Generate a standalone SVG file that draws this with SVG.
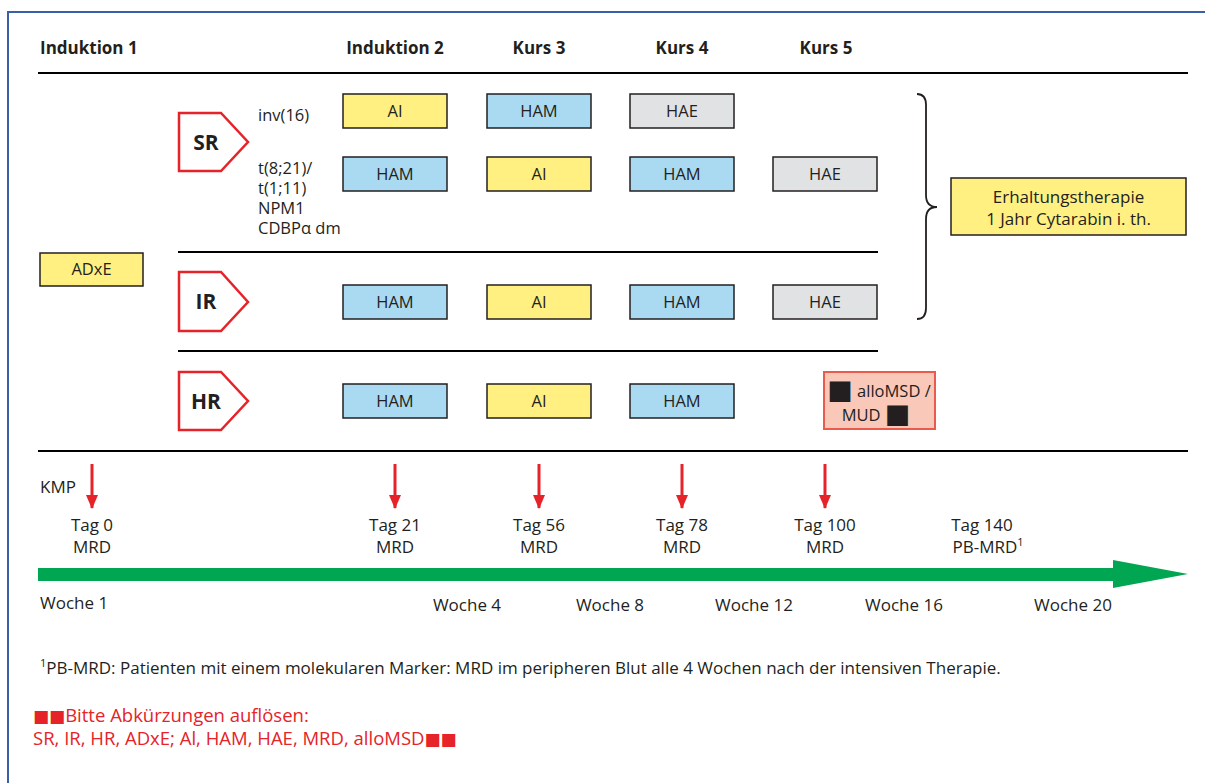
<svg xmlns="http://www.w3.org/2000/svg" width="1205" height="783" viewBox="0 0 1205 783">
<defs>
<style>
text{font-family:"Open Sans","Noto Sans","Liberation Sans",sans-serif;fill:#231f20;font-size:17px}
.h{font-weight:bold;font-size:17px}
.c{text-anchor:middle}
.lbl{font-size:16.5px;text-anchor:middle}
.big{font-weight:bold;font-size:21px;text-anchor:middle}
.red{fill:#e52329;font-size:18.5px}
.sq{font-size:17px;font-family:"DejaVu Sans",sans-serif}
.bsq{font-size:27px;font-family:"DejaVu Sans",sans-serif}
.gen{font-size:16.5px}
.box{stroke:#231f20;stroke-width:1.5}
.y{fill:#fff081}
.b{fill:#aad9f2}
.g{fill:#e1e2e4}
.pent{fill:#fff;stroke:#e52329;stroke-width:2.5}
.rule{stroke:#000;stroke-width:2}
</style>
<marker id="ah" viewBox="0 0 14 12" refX="13" refY="6" markerWidth="14" markerHeight="12" markerUnits="userSpaceOnUse" orient="auto">
<path d="M0,0 L14,6 L0,12 Z" fill="#e52329"/>
</marker>
</defs>
<rect x="8" y="12" width="1220" height="800" fill="#fff" stroke="#3b5ea8" stroke-width="2"/>

<g id="headers">
<text class="h" x="40" y="54">Induktion 1</text>
<text class="h c" x="395" y="54">Induktion 2</text>
<text class="h c" x="539" y="54">Kurs 3</text>
<text class="h c" x="682" y="54">Kurs 4</text>
<text class="h c" x="826" y="54">Kurs 5</text>
</g>

<g id="rules">
<line class="rule" x1="38" y1="73" x2="1188" y2="73"/>
<line class="rule" x1="178" y1="252" x2="878" y2="252"/>
<line class="rule" x1="178" y1="351" x2="878" y2="351"/>
<line class="rule" x1="38" y1="451" x2="1188" y2="451"/>
</g>

<g id="adxe"><rect class="box y" x="40" y="253" width="103" height="33"/><text class="lbl" x="91.5" y="275">ADxE</text></g>

<g id="sr">
<polygon class="pent" points="179,113 221,113 248,142 221,171 179,171"/>
<text class="big" x="206" y="150">SR</text>
<text class="gen" x="258" y="121">inv(16)</text>
<text class="gen" x="258" y="174">t(8;21)/<tspan x="258" dy="20">t(1;11)</tspan><tspan x="258" dy="20">NPM1</tspan><tspan x="258" dy="20">CDBPα dm</tspan></text>
</g>
<g id="ir">
<polygon class="pent" points="179,272 221,272 248,302 221,331 179,331"/>
<text class="big" x="206" y="309">IR</text>
</g>
<g id="hr">
<polygon class="pent" points="179,372 221,372 248,401 221,430 179,430"/>
<text class="big" x="206" y="409">HR</text>
</g>

<g id="sr1-ai"><rect class="box y" x="343" y="94" width="104" height="34"/><text class="lbl" x="395" y="117">AI</text></g>
<g id="sr1-ham"><rect class="box b" x="487" y="94" width="104" height="34"/><text class="lbl" x="539" y="117">HAM</text></g>
<g id="sr1-hae"><rect class="box g" x="630" y="94" width="104" height="34"/><text class="lbl" x="682" y="117">HAE</text></g>

<g id="sr2-ham"><rect class="box b" x="343" y="157" width="104" height="34"/><text class="lbl" x="395" y="180">HAM</text></g>
<g id="sr2-ai"><rect class="box y" x="487" y="157" width="104" height="34"/><text class="lbl" x="539" y="180">AI</text></g>
<g id="sr2-ham2"><rect class="box b" x="630" y="157" width="104" height="34"/><text class="lbl" x="682" y="180">HAM</text></g>
<g id="sr2-hae"><rect class="box g" x="773" y="157" width="104" height="34"/><text class="lbl" x="825" y="180">HAE</text></g>

<g id="ir-ham"><rect class="box b" x="343" y="285" width="104" height="34"/><text class="lbl" x="395" y="308">HAM</text></g>
<g id="ir-ai"><rect class="box y" x="487" y="285" width="104" height="34"/><text class="lbl" x="539" y="308">AI</text></g>
<g id="ir-ham2"><rect class="box b" x="630" y="285" width="104" height="34"/><text class="lbl" x="682" y="308">HAM</text></g>
<g id="ir-hae"><rect class="box g" x="773" y="285" width="104" height="34"/><text class="lbl" x="825" y="308">HAE</text></g>

<g id="hr-ham"><rect class="box b" x="343" y="384" width="104" height="34"/><text class="lbl" x="395" y="407">HAM</text></g>
<g id="hr-ai"><rect class="box y" x="487" y="384" width="104" height="34"/><text class="lbl" x="539" y="407">AI</text></g>
<g id="hr-ham2"><rect class="box b" x="630" y="384" width="104" height="34"/><text class="lbl" x="682" y="407">HAM</text></g>
<g id="hr-allo"><rect x="824" y="372" width="111" height="57" fill="#fac8b8" stroke="#ea5a4d" stroke-width="2"/>
<text class="lbl" x="879" y="397"><tspan class="bsq" dy="2">■</tspan><tspan dy="-2"> alloMSD /</tspan><tspan x="876" dy="24">MUD </tspan><tspan class="bsq" dy="2">■</tspan></text></g>

<g id="brace"><path d="M917,94 Q926,94 926,105 L926,195 Q926,207 937,207 Q926,207 926,219 L926,308 Q926,319 917,319" fill="none" stroke="#231f20" stroke-width="1.8"/></g>
<g id="erhaltung"><rect class="box y" x="951" y="178" width="235" height="57"/>
<text class="c" x="1068.5" y="203">Erhaltungstherapie</text>
<text class="c" x="1068.5" y="225">1 Jahr Cytarabin i. th.</text></g>

<g id="connectors" stroke="#e52329" stroke-width="3">
<line x1="92" y1="464" x2="92" y2="508" marker-end="url(#ah)"/>
<line x1="395" y1="464" x2="395" y2="508" marker-end="url(#ah)"/>
<line x1="539" y1="464" x2="539" y2="508" marker-end="url(#ah)"/>
<line x1="682" y1="464" x2="682" y2="508" marker-end="url(#ah)"/>
<line x1="825" y1="464" x2="825" y2="508" marker-end="url(#ah)"/>
</g>

<g id="timeline">
<polygon points="38,568 1113,568 1113,560 1188,574 1113,588 1113,581 38,581" fill="#00a651"/>
<text x="40" y="493">KMP</text>
<text class="c" x="92" y="531">Tag 0</text><text class="c" x="92" y="553">MRD</text>
<text class="c" x="395" y="531">Tag 21</text><text class="c" x="395" y="553">MRD</text>
<text class="c" x="539" y="531">Tag 56</text><text class="c" x="539" y="553">MRD</text>
<text class="c" x="682" y="531">Tag 78</text><text class="c" x="682" y="553">MRD</text>
<text class="c" x="825" y="531">Tag 100</text><text class="c" x="825" y="553">MRD</text>
<text class="c" x="982" y="531">Tag 140</text><text class="c" x="988" y="553">PB-MRD<tspan font-size="11" dy="-7">1</tspan></text>
<text x="40" y="609">Woche 1</text>
<text class="c" x="467" y="611">Woche 4</text>
<text class="c" x="610" y="611">Woche 8</text>
<text class="c" x="754" y="611">Woche 12</text>
<text class="c" x="904" y="611">Woche 16</text>
<text class="c" x="1073" y="611">Woche 20</text>
</g>

<g id="notes">
<text x="40" y="674" font-size="17.2"><tspan font-size="11" dy="-7">1</tspan><tspan dy="7">PB-MRD: Patienten mit einem molekularen Marker: MRD im peripheren Blut alle 4 Wochen nach der intensiven Therapie.</tspan></text>
<text class="red" x="33" y="722"><tspan class="sq">■■</tspan>Bitte Abkürzungen auflösen:</text>
<text class="red" x="33" y="745">SR, IR, HR, ADxE; Al, HAM, HAE, MRD, alloMSD<tspan class="sq">■■</tspan></text>
</g>
</svg>
